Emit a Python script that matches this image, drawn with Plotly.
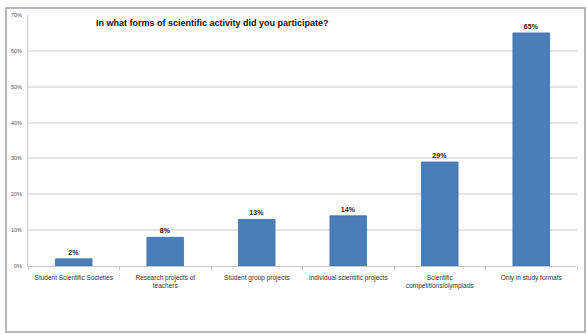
import plotly.graph_objects as go

categories = [
    "Student Scientific Societies",
    "Research projects of<br>teachers",
    "Student group projects",
    "Individual scientific projects",
    "Scientific<br>competitions/olympiads",
    "Only in study formats",
]
values = [2, 8, 13, 14, 29, 65]
labels = [f"<b>{v}%</b>" for v in values]
y_ticks = [0, 10, 20, 30, 40, 50, 60, 70]
y_ticktext = [f"{t}%" for t in y_ticks]

fig = go.Figure(
    go.Bar(
        x=categories,
        y=values,
        text=labels,
        textposition="outside",
        textfont=dict(size=7, color="#222222", family="Liberation Sans"),
        marker=dict(color="#4a7ebb", line=dict(color="#3d6ea8", width=0.8)),
        cliponaxis=False,
        hoverinfo="skip",
    )
)

fig.update_layout(
    width=587,
    height=334,
    margin=dict(l=28, r=10, t=15, b=68),
    paper_bgcolor="white",
    plot_bgcolor="white",
    bargap=0.6,
    showlegend=False,
    font=dict(family="Liberation Sans", size=6, color="#444444"),
    xaxis=dict(
        showgrid=False,
        showline=True,
        linecolor="#c8c8c8",
        linewidth=1,
        ticks="outside",
        tickson="boundaries",
        ticklen=3,
        tickcolor="#c8c8c8",
        ticklabelstandoff=5,
        tickfont=dict(size=6.5, color="#333333"),
        fixedrange=True,
    ),
    yaxis=dict(
        range=[0, 70],
        tickvals=y_ticks,
        ticktext=y_ticktext,
        showgrid=True,
        gridcolor="#e4e4e4",
        gridwidth=1.5,
        showline=True,
        linecolor="#c8c8c8",
        linewidth=1,
        zeroline=False,
        ticks="",
        ticklabelstandoff=4,
        tickfont=dict(size=5.5, color="#555555"),
        fixedrange=True,
    ),
    annotations=[
        dict(
            text="<b>In what forms of scientific activity did you participate?</b>",
            x=0.12,
            y=0.97,
            xref="paper",
            yref="paper",
            xanchor="left",
            yanchor="middle",
            showarrow=False,
            font=dict(size=9, color="#111111", family="Liberation Sans"),
        )
    ],
    shapes=[
        dict(
            type="rect",
            xref="paper",
            yref="paper",
            x0=-0.04,
            x1=1.0146,
            y0=-0.263,
            y1=1.028,
            line=dict(color="#a0a0a0", width=1.5),
            fillcolor="rgba(0,0,0,0)",
            layer="below",
        )
    ],
)

fig.write_html("out.html")
